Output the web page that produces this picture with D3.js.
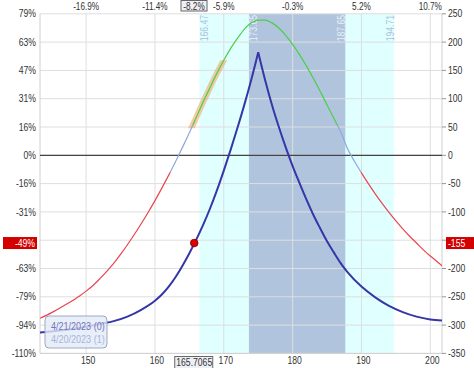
<html><head>
<meta charset="utf-8">
<title>Risk graph</title>
<script src="https://d3js.org/d3.v7.min.js"></script>
<style>
  body { margin: 0; background: #fff; }
  svg text { font-family: "Liberation Sans", Arial, sans-serif; }
</style>
</head>
<body>
<svg id="chart" width="474" height="368"></svg>
<script>
// ticks / labels
const xTicks = [150, 160, 170, 180, 190, 200];
const topLabels = ["-16.9%", "-11.4%", "-5.9%", "-0.3%", "5.2%", "10.7%"];
const plTicks = [250, 200, 150, 100, 50, 0, -50, -100, -150, -200, -250, -300, -350];
const pctLabels = ["79%", "63%", "47%", "31%", "16%", "0%", "-16%", "-31%", "-47%", "-63%", "-79%", "-94%", "-110%"];

// current price marker
const spot = 165.7065;
const spotPL = -155;
const spotPctTop = "-8.2%";
const spotPctLeft = "-49%";

// shaded ranges
const outerBand = [166.47, 194.71];
const innerBand = [173.65, 187.65];

// expiration line 4/21/2023 (0)
const expPrice = [143.3, 146, 148, 150, 152, 154, 156, 158, 160, 161, 162, 163, 164, 165, 166, 167, 168, 169, 170,
                  171, 172, 173, 174, 175,
                  176, 177, 178, 179, 180, 181, 182, 183, 184, 185, 186, 187, 188, 190, 192, 194, 196, 198, 200, 201.7];
const expPL = [-313, -310, -307, -303, -298, -293, -285, -273, -257, -246, -232, -215, -195, -173, -149, -123, -94, -62, -27,
               10, 49, 90, 134, 182,
               133, 89, 50, 14, -19, -49, -78, -105, -129, -152, -172, -191, -207, -232, -251, -266, -277, -285, -290, -292];

// T+1 line 4/20/2023 (1)
const t1Price = [143.3, 145, 147, 149, 150, 151, 152, 153, 154, 155, 156, 157, 158, 159, 160, 161, 162, 163, 164, 165,
                 166, 167, 168, 169, 170, 171, 172, 173, 174, 175, 176, 177, 178, 179, 180, 181, 182, 183, 184, 185,
                 186, 187, 188, 189, 190, 191, 192, 193, 194, 195, 196, 197, 198, 199, 200, 201, 201.8];
const t1PL = [-288, -278, -264, -249, -240, -230, -218, -205, -191, -175, -158, -140, -121, -101, -80, -58, -35, -11, 14, 40,
              67, 94, 120, 145, 168, 189, 207, 223, 234, 239, 239, 234, 225, 212, 196, 178, 158, 136, 113, 89,
              65, 41, 11, -11, -31, -50, -68, -85, -101, -116, -130, -143, -155, -167, -178, -188, -196];

const legendLabels = ["4/21/2023 (0)", "4/20/2023 (1)"];

const svg = d3.select("#chart");
const L = 40, R = 442, T = 13.8, B = 353.4;

const x = d3.scaleLinear().domain([143.3, 201.7]).range([L, R]);
const y = d3.scaleLinear().domain([-350, 250]).range([B, T]);

// the reference uses a narrow face: squeeze Liberation Sans horizontally
function squeeze(sel, k = 0.82) {
  sel.each(function () {
    const w = this.getComputedTextLength();
    d3.select(this).attr("textLength", w * k).attr("lengthAdjust", "spacingAndGlyphs");
  });
}

svg.append("rect").attr("width", 474).attr("height", 368).attr("fill", "#fff");

const defs = svg.append("defs");
function clipRect(id, x0, y0, x1, y1) {
  defs.append("clipPath").attr("id", id).append("rect")
    .attr("x", x0).attr("y", y0).attr("width", x1 - x0).attr("height", y1 - y0);
}
clipRect("plot", L, T, R, B);
clipRect("cGreen", L, T, R, y(52));
clipRect("cPale", L, y(52), R, y(-30));
clipRect("cRed", L, y(-30), R, B);
clipRect("cOrange", L, y(168), x(172), y(48));

// bands
svg.append("rect").attr("x", x(outerBand[0])).attr("y", T)
  .attr("width", x(outerBand[1]) - x(outerBand[0])).attr("height", B - T).attr("fill", "#e0ffff");
svg.append("rect").attr("x", x(innerBand[0])).attr("y", T)
  .attr("width", x(innerBand[1]) - x(innerBand[0])).attr("height", B - T).attr("fill", "#b0c4de");

// grid
svg.append("g").selectAll("line").data(plTicks).join("line")
  .attr("x1", L).attr("x2", R).attr("y1", d => y(d)).attr("y2", d => y(d))
  .attr("stroke", "#dedede").attr("stroke-width", 1);
svg.append("g").selectAll("line").data(xTicks).join("line")
  .attr("x1", d => x(d)).attr("x2", d => x(d)).attr("y1", T).attr("y2", B)
  .attr("stroke", "#dedede").attr("stroke-width", 1);

// frame lines
svg.append("line").attr("x1", L).attr("x2", L).attr("y1", T).attr("y2", B).attr("stroke", "#d0d0d0");
svg.append("line").attr("x1", R).attr("x2", R).attr("y1", T).attr("y2", B).attr("stroke", "#d0d0d0");
svg.append("line").attr("x1", L).attr("x2", R).attr("y1", B).attr("y2", B).attr("stroke", "#d0d0d0");

// zero line
svg.append("line").attr("x1", L).attr("x2", R).attr("y1", y(0)).attr("y2", y(0))
  .attr("stroke", "#444").attr("stroke-width", 1.2);

// band edge labels
const edgeLabels = [
  {v: outerBand[0], dx: 4.5, c: "#a9c3dc"},
  {v: innerBand[0], dx: 4.5, c: "#e8eef7"},
  {v: innerBand[1], dx: -4, c: "#e8eef7"},
  {v: outerBand[1], dx: -4, c: "#a9c3dc"}
];
svg.append("g").selectAll("text").data(edgeLabels).join("text")
  .attr("transform", d => `translate(${x(d.v) + d.dx},15) rotate(-90)`)
  .attr("text-anchor", "end").attr("dy", "0.35em")
  .attr("font-size", 10.5).attr("fill", d => d.c)
  .text(d => d.v.toFixed(2))
  .call(squeeze);

// lines
const t1Data = t1Price.map((p, i) => [p, t1PL[i]]);
const expData = expPrice.map((p, i) => [p, expPL[i]]);
const line = d3.line().x(d => x(d[0])).y(d => y(d[1])).curve(d3.curveMonotoneX);

const plot = svg.append("g").attr("clip-path", "url(#plot)");

plot.append("g").attr("clip-path", "url(#cOrange)")
  .append("path").attr("d", line(t1Data)).attr("fill", "none")
  .attr("stroke", "#f2a66a").attr("stroke-opacity", 0.6).attr("stroke-width", 6);

[["cGreen", "#48d048"], ["cPale", "#8fa8dc"], ["cRed", "#e8454f"]].forEach(([id, col]) => {
  plot.append("g").attr("clip-path", `url(#${id})`)
    .append("path").attr("d", line(t1Data)).attr("fill", "none")
    .attr("stroke", col).attr("stroke-width", 1.2);
});

// expiration line drawn in two pieces so the peak stays sharp
const peak = expPL.indexOf(d3.max(expPL));
[expData.slice(0, peak + 1), expData.slice(peak)].forEach(seg => {
  plot.append("path").attr("d", line(seg)).attr("fill", "none")
    .attr("stroke", "#3636a8").attr("stroke-width", 2);
});

// spot dot
svg.append("circle").attr("cx", x(spot)).attr("cy", y(spotPL)).attr("r", 3.8)
  .attr("fill", "#e00000").attr("stroke", "#700").attr("stroke-width", 0.8);

// legend
const lg = svg.append("g");
lg.append("rect").attr("x", 45).attr("y", 316).attr("width", 62).attr("height", 32).attr("rx", 4)
  .attr("fill", "#e4ebf8").attr("fill-opacity", 0.8).attr("stroke", "#9ea8c4");
lg.selectAll("text").data(legendLabels).join("text")
  .attr("x", 51).attr("y", (d, i) => 330 + i * 13)
  .attr("font-size", 11).attr("fill", (d, i) => i ? "#a4b6da" : "#7474bc")
  .text(d => d)
  .call(squeeze);

// left axis (the -150 row sits under the red marker)
const shown = plTicks.map((d, i) => ({v: d, pct: pctLabels[i]})).filter(d => d.v !== -150);
svg.append("g").selectAll("text").data(shown).join("text")
  .attr("x", 36).attr("y", d => y(d.v)).attr("dy", "0.35em").attr("text-anchor", "end")
  .attr("font-size", 10.5).attr("fill", "#333")
  .text(d => d.pct)
  .call(squeeze);

// right axis
svg.append("g").selectAll("line").data(plTicks).join("line")
  .attr("x1", R).attr("x2", R + 4).attr("y1", d => y(d)).attr("y2", d => y(d)).attr("stroke", "#999");
svg.append("g").selectAll("text").data(shown).join("text")
  .attr("x", 448).attr("y", d => y(d.v)).attr("dy", "0.35em")
  .attr("font-size", 10.5).attr("fill", "#333")
  .text(d => d.v)
  .call(squeeze);

// top axis
svg.append("g").selectAll("text").data(xTicks).join("text")
  .attr("x", d => x(d)).attr("y", 9.5).attr("text-anchor", "middle")
  .attr("font-size", 10).attr("fill", "#333")
  .text((d, i) => topLabels[i])
  .call(squeeze);

// bottom axis
svg.append("g").selectAll("text").data(xTicks).join("text")
  .attr("x", d => x(d) + 2).attr("y", 364).attr("text-anchor", "middle")
  .attr("font-size", 10.5).attr("fill", "#333")
  .text(d => d)
  .call(squeeze);

// spot markers on axes
svg.append("rect").attr("x", 181).attr("y", 0.5).attr("width", 26).attr("height", 10.5)
  .attr("fill", "#eef0f6").attr("stroke", "#666");
svg.append("text").attr("x", 194).attr("y", 9.5).attr("text-anchor", "middle")
  .attr("font-size", 10).attr("fill", "#333").text(spotPctTop).call(squeeze);

svg.append("rect").attr("x", x(spot) - 19.5).attr("y", 356.5).attr("width", 38).attr("height", 14)
  .attr("fill", "#eef0f6").attr("stroke", "#666");
svg.append("text").attr("x", x(spot)).attr("y", 366).attr("text-anchor", "middle")
  .attr("font-size", 10.5).attr("fill", "#333").text(spot).call(squeeze);

svg.append("rect").attr("x", 3).attr("y", y(spotPL) - 6).attr("width", 34).attr("height", 12).attr("fill", "#d40000");
svg.append("text").attr("x", 35).attr("y", y(spotPL)).attr("dy", "0.35em").attr("text-anchor", "end")
  .attr("font-size", 10.5).attr("fill", "#fff").text(spotPctLeft).call(squeeze);

svg.append("rect").attr("x", 446).attr("y", y(spotPL) - 6).attr("width", 28).attr("height", 12).attr("fill", "#d40000");
svg.append("text").attr("x", 448).attr("y", y(spotPL)).attr("dy", "0.35em")
  .attr("font-size", 10.5).attr("fill", "#fff").text(spotPL).call(squeeze);
</script>
</body></html>
